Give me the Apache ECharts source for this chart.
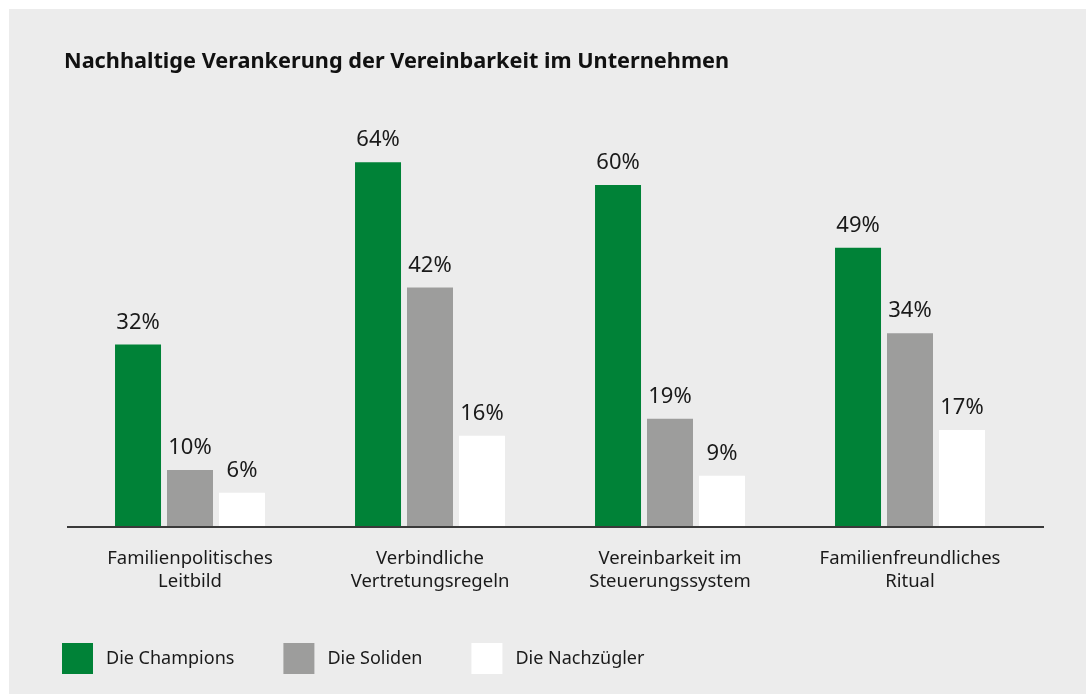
<!DOCTYPE html>
<html>
<head>
<meta charset="utf-8">
<script src="https://cdn.jsdelivr.net/npm/echarts@6/dist/echarts.min.js"></script>
<style>
html,body{margin:0;padding:0;background:#ffffff;}
#chart{width:1086px;height:697px;}
</style>
</head>
<body>
<div id="chart"></div>
<script>
const title = 'Nachhaltige Verankerung der Vereinbarkeit im Unternehmen';
const categories = ['Familienpolitisches\nLeitbild', 'Verbindliche\nVertretungsregeln', 'Vereinbarkeit im\nSteuerungssystem', 'Familienfreundliches\nRitual'];
const seriesNames = ['Die Champions', 'Die Soliden', 'Die Nachzügler'];
const champions = [32, 64, 60, 49];
const soliden = [10, 42, 19, 34];
const nachzuegler = [6, 16, 9, 17];
const colors = ['#008237', '#9d9d9c', '#ffffff'];

const FONT = '"Noto Sans", sans-serif';
const chart = echarts.init(document.getElementById('chart'), null, {renderer: 'canvas'});
const values = [champions, soliden, nachzuegler];

chart.setOption({
  backgroundColor: '#ffffff',
  animation: false,
  graphic: [{
    type: 'rect', z: -10, silent: true,
    shape: {x: 9, y: 9, width: 1077, height: 685},
    style: {fill: '#ececec'}
  }, {
    type: 'line', z: 10, silent: true,
    shape: {x1: 67, y1: 527, x2: 1044, y2: 527},
    style: {stroke: '#3a3a3a', lineWidth: 2}
  }],
  title: {
    text: title, left: 59, top: 46,
    textStyle: {fontFamily: FONT, fontWeight: 'bold', fontSize: 21.7, color: '#111111'}
  },
  legend: {
    left: 62, top: 643, padding: 0,
    itemWidth: 31, itemHeight: 31, itemGap: 49,
    icon: 'rect',
    data: seriesNames,
    textStyle: {fontFamily: FONT, fontSize: 18, color: '#1a1a1a', padding: [0, 0, 0, 8]}
  },
  grid: {left: 70, right: 56, top: 128, bottom: 170, containLabel: false},
  xAxis: {
    type: 'category', data: categories,
    axisLine: {show: false},
    axisTick: {show: false},
    axisLabel: {fontFamily: FONT, fontSize: 18.5, color: '#1a1a1a', margin: 20, lineHeight: 23}
  },
  yAxis: {type: 'value', min: 0, max: 70, show: false, splitLine: {show: false}},
  series: seriesNames.map((name, i) => ({
    name, type: 'bar', data: values[i],
    barWidth: 46, barGap: '13%',
    itemStyle: {color: colors[i]},
    label: {
      show: true, position: 'top', distance: 11,
      formatter: '{c}%',
      fontFamily: FONT, fontSize: 22, color: '#1a1a1a'
    }
  }))
});
</script>
</body>
</html>
